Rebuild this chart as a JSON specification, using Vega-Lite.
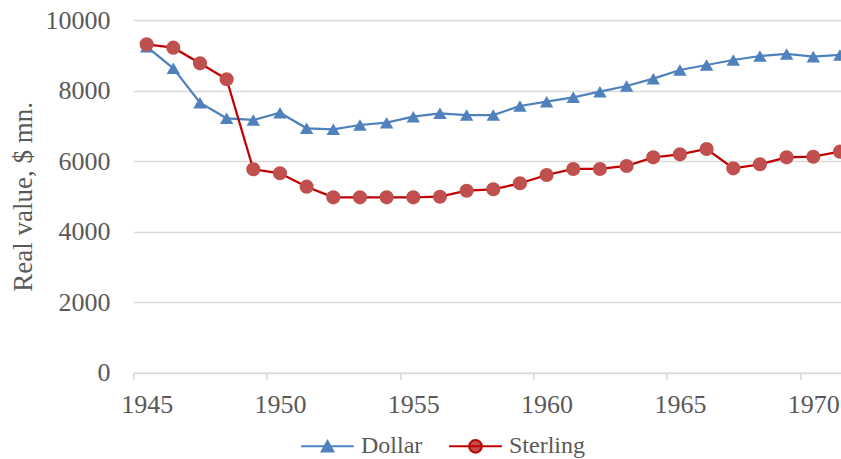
{
  "$schema": "https://vega.github.io/schema/vega-lite/v6.json",
  "autosize": {"type": "none"},
  "padding": {"left": 133.3, "top": 20, "right": 0, "bottom": 86.3},
  "width": 707.7,
  "height": 352.7,
  "background": "white",
  "config": {
    "view": {"stroke": null},
    "font": "Liberation Serif",
    "legend": {"labelFont": "Liberation Serif", "labelFontSize": 24, "labelColor": "#595959"}
  },
  "data": {
    "values": [
      {"year": 1945, "series": "Dollar", "value": 9243},
      {"year": 1946, "series": "Dollar", "value": 8631},
      {"year": 1947, "series": "Dollar", "value": 7655},
      {"year": 1948, "series": "Dollar", "value": 7213},
      {"year": 1949, "series": "Dollar", "value": 7165},
      {"year": 1950, "series": "Dollar", "value": 7372},
      {"year": 1951, "series": "Dollar", "value": 6929},
      {"year": 1952, "series": "Dollar", "value": 6901},
      {"year": 1953, "series": "Dollar", "value": 7023},
      {"year": 1954, "series": "Dollar", "value": 7088},
      {"year": 1955, "series": "Dollar", "value": 7258},
      {"year": 1956, "series": "Dollar", "value": 7355},
      {"year": 1957, "series": "Dollar", "value": 7306},
      {"year": 1958, "series": "Dollar", "value": 7306},
      {"year": 1959, "series": "Dollar", "value": 7562},
      {"year": 1960, "series": "Dollar", "value": 7684},
      {"year": 1961, "series": "Dollar", "value": 7808},
      {"year": 1962, "series": "Dollar", "value": 7967},
      {"year": 1963, "series": "Dollar", "value": 8129},
      {"year": 1964, "series": "Dollar", "value": 8336},
      {"year": 1965, "series": "Dollar", "value": 8582},
      {"year": 1966, "series": "Dollar", "value": 8724},
      {"year": 1967, "series": "Dollar", "value": 8866},
      {"year": 1968, "series": "Dollar", "value": 8979},
      {"year": 1969, "series": "Dollar", "value": 9036},
      {"year": 1970, "series": "Dollar", "value": 8960},
      {"year": 1971, "series": "Dollar", "value": 9008},
      {"year": 1945, "series": "Sterling", "value": 9311},
      {"year": 1946, "series": "Sterling", "value": 9215},
      {"year": 1947, "series": "Sterling", "value": 8772},
      {"year": 1948, "series": "Sterling", "value": 8319},
      {"year": 1949, "series": "Sterling", "value": 5767},
      {"year": 1950, "series": "Sterling", "value": 5654},
      {"year": 1951, "series": "Sterling", "value": 5274},
      {"year": 1952, "series": "Sterling", "value": 4973},
      {"year": 1953, "series": "Sterling", "value": 4973},
      {"year": 1954, "series": "Sterling", "value": 4973},
      {"year": 1955, "series": "Sterling", "value": 4973},
      {"year": 1956, "series": "Sterling", "value": 4990},
      {"year": 1957, "series": "Sterling", "value": 5160},
      {"year": 1958, "series": "Sterling", "value": 5200},
      {"year": 1959, "series": "Sterling", "value": 5370},
      {"year": 1960, "series": "Sterling", "value": 5605},
      {"year": 1961, "series": "Sterling", "value": 5776},
      {"year": 1962, "series": "Sterling", "value": 5776},
      {"year": 1963, "series": "Sterling", "value": 5861},
      {"year": 1964, "series": "Sterling", "value": 6107},
      {"year": 1965, "series": "Sterling", "value": 6192},
      {"year": 1966, "series": "Sterling", "value": 6343},
      {"year": 1967, "series": "Sterling", "value": 5795},
      {"year": 1968, "series": "Sterling", "value": 5909},
      {"year": 1969, "series": "Sterling", "value": 6107},
      {"year": 1970, "series": "Sterling", "value": 6124},
      {"year": 1971, "series": "Sterling", "value": 6266}
    ]
  },
  "encoding": {
    "x": {
      "field": "year",
      "type": "quantitative",
      "scale": {"domain": [1944.5, 1971.04], "nice": false, "zero": false},
      "axis": {
        "title": null,
        "values": [1945, 1950, 1955, 1960, 1965, 1970],
        "format": "d",
        "grid": false,
        "tickOffset": -13.33,
        "labelOffset": 13.33,
        "domainColor": "#D9D9D9",
        "domainWidth": 1.5,
        "tickColor": "#D9D9D9",
        "tickWidth": 1.5,
        "tickSize": 7,
        "labelPadding": 11.5,
        "labelFont": "Liberation Serif",
        "labelFontSize": 26,
        "labelColor": "#595959",
        "labelFlush": false,
        "labelOverlap": false
      }
    },
    "y": {
      "field": "value",
      "type": "quantitative",
      "scale": {"domain": [0, 10000], "nice": false},
      "axis": {
        "title": "Real value, $ mn.",
        "values": [0, 2000, 4000, 6000, 8000, 10000],
        "format": "d",
        "domain": false,
        "ticks": false,
        "grid": true,
        "gridColor": "#D9D9D9",
        "gridWidth": 1.3,
        "labelPadding": 23.3,
        "labelFont": "Liberation Serif",
        "labelFontSize": 26,
        "labelColor": "#595959",
        "labelFlush": false,
        "titleFont": "Liberation Serif",
        "titleFontSize": 27,
        "titleFontWeight": "normal",
        "titleColor": "#595959",
        "titleX": -101.6,
        "titleBaseline": "alphabetic"
      }
    }
  },
  "layer": [
    {
      "mark": {"type": "line", "strokeWidth": 2.25},
      "encoding": {
        "color": {
          "field": "series",
          "type": "nominal",
          "scale": {"domain": ["Dollar", "Sterling"], "range": ["#4F81BD", "#C00000"]},
          "legend": {
            "title": null,
            "orient": "none",
            "legendX": 166.7,
            "legendY": 398.6,
            "direction": "horizontal",
            "padding": 0,
            "symbolSize": 2777,
            "symbolStrokeWidth": 2,
            "labelFont": "Liberation Serif",
            "labelFontSize": 24,
            "labelColor": "#595959",
            "labelOffset": 6,
            "labelBaseline": "middle",
            "columnPadding": 22,
            "encode": {
              "symbols": {
                "update": {
                  "shape": {"signal": "datum.value === 'Dollar' ? 'M-1,0L1,0M0,-0.2L0.22,0.2L-0.22,0.2Z' : 'M-1,0L1,0M-0.24,0A0.24,0.24,0,1,0,0.24,0A0.24,0.24,0,1,0,-0.24,0Z'"},
                  "fill": {"signal": "datum.value === 'Dollar' ? '#4F81BD' : '#C0504D'"},
                  "stroke": {"signal": "datum.value === 'Dollar' ? '#4F81BD' : '#C00000'"},
                  "strokeWidth": {"value": 2},
                  "opacity": {"value": 1},
                  "fillOpacity": {"value": 1}
                }
              }
            }
          }
        }
      }
    },
    {
      "transform": [{"filter": "datum.series === 'Dollar'"}],
      "mark": {"type": "point", "filled": true, "opacity": 1, "shape": "triangle-up", "size": 180, "color": "#4F81BD"}
    },
    {
      "transform": [{"filter": "datum.series === 'Sterling'"}],
      "mark": {"type": "point", "filled": true, "opacity": 1, "shape": "circle", "size": 200, "color": "#C0504D"}
    }
  ]
}
